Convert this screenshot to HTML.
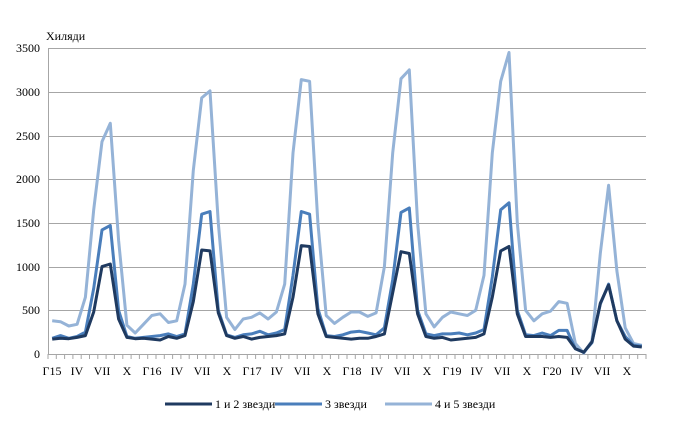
<!DOCTYPE html>
<html><head><meta charset="utf-8"><style>
body{margin:0;background:#fff;}
svg{display:block;font-family:"Liberation Serif","DejaVu Serif",serif;}
</style></head><body>
<svg id="s" width="684" height="435" viewBox="0 0 684 435">
<rect x="0" y="0" width="684" height="435" fill="#fff"/>
<g stroke="#a6a6a6" stroke-width="1">
<line x1="48" x2="646" y1="48.5" y2="48.5"/>
<line x1="48" x2="646" y1="92.5" y2="92.5"/>
<line x1="48" x2="646" y1="136.5" y2="136.5"/>
<line x1="48" x2="646" y1="179.5" y2="179.5"/>
<line x1="48" x2="646" y1="223.5" y2="223.5"/>
<line x1="48" x2="646" y1="267.5" y2="267.5"/>
<line x1="48" x2="646" y1="310.5" y2="310.5"/>
<line x1="48" x2="646" y1="354.5" y2="354.5"/>
<line x1="48.5" x2="48.5" y1="48" y2="354"/>
</g>
<g id="ticks" stroke="#a6a6a6" stroke-width="1"></g>
<g font-size="12" fill="#000" text-anchor="end">
<text x="40" y="52">3500</text><text x="40" y="96">3000</text><text x="40" y="140">2500</text>
<text x="40" y="183">2000</text><text x="40" y="227">1500</text><text x="40" y="271">1000</text>
<text x="40" y="314">500</text><text x="40" y="358">0</text>
</g>
<text x="46" y="40" font-size="12">Хиляди</text>
<g font-size="12" text-anchor="middle">
<text x="52" y="375">Г15</text><text x="77" y="375">IV</text><text x="102" y="375">VII</text><text x="127" y="375">X</text>
<text x="152" y="375">Г16</text><text x="177" y="375">IV</text><text x="202" y="375">VII</text><text x="227" y="375">X</text>
<text x="252" y="375">Г17</text><text x="277" y="375">IV</text><text x="302" y="375">VII</text><text x="327" y="375">X</text>
<text x="352" y="375">Г18</text><text x="377" y="375">IV</text><text x="402" y="375">VII</text><text x="427" y="375">X</text>
<text x="452" y="375">Г19</text><text x="477" y="375">IV</text><text x="502" y="375">VII</text><text x="527" y="375">X</text>
<text x="552" y="375">Г20</text><text x="577" y="375">IV</text><text x="602" y="375">VII</text><text x="627" y="375">X</text>
</g>
<g id="lines" fill="none" stroke-width="3" stroke-linejoin="round"></g>
<g font-size="12">
<line x1="165" x2="212" y1="404" y2="404" stroke="#1f3a60" stroke-width="3"/>
<text x="215" y="408">1 и 2 звезди</text>
<line x1="275" x2="322" y1="404" y2="404" stroke="#4a7ebb" stroke-width="3"/>
<text x="325" y="408">3 звезди</text>
<line x1="385" x2="432" y1="404" y2="404" stroke="#95b3d7" stroke-width="3"/>
<text x="435" y="408">4 и 5 звезди</text>
</g>
</svg>
<script>
var d1=[170,180,175,190,210,480,1000,1030,400,190,175,180,
170,160,200,180,210,600,1190,1180,470,210,180,200,
170,190,200,210,230,650,1240,1230,460,200,190,180,
170,180,180,200,230,700,1170,1150,460,200,180,190,
160,170,180,190,230,650,1180,1230,460,200,200,200,
190,200,190,60,20,140,580,790,380,170,90,80];
var d2=[180,210,180,200,250,750,1420,1470,500,200,180,190,
200,210,230,200,230,800,1600,1630,500,220,190,220,
230,260,220,240,280,900,1630,1600,520,210,200,220,
250,260,240,220,300,850,1620,1670,500,230,210,230,
230,240,220,240,280,880,1650,1730,500,220,210,240,
210,270,270,60,20,130,570,800,380,200,100,90];
var d3=[380,370,320,340,650,1650,2430,2640,1300,330,240,340,
440,460,360,380,800,2100,2930,3010,1500,420,280,400,
420,470,400,480,800,2300,3140,3120,1500,440,350,420,
480,480,430,470,1000,2300,3150,3250,1500,460,310,420,
480,460,440,500,900,2300,3120,3450,1500,500,380,460,
490,600,580,120,10,150,1150,1930,950,300,120,100];
var g=document.getElementById('lines'),t=document.getElementById('ticks'),ns='http://www.w3.org/2000/svg';
var step=598/72;
for(var i=0;i<=72;i++){var l=document.createElementNS(ns,'line');var x=(48+i*step).toFixed(1);l.setAttribute('x1',x);l.setAttribute('x2',x);l.setAttribute('y1',354);l.setAttribute('y2',359);t.appendChild(l);}
function add(d,c){var p=d.map(function(v,i){return (48+(i+0.5)*step).toFixed(1)+','+(354-v*0.0874).toFixed(1)}).join(' ');var e=document.createElementNS(ns,'polyline');e.setAttribute('points',p);e.setAttribute('stroke',c);g.appendChild(e);}
add(d3,'#95b3d7');add(d2,'#4a7ebb');add(d1,'#1f3a60');
</script>
</body></html>
